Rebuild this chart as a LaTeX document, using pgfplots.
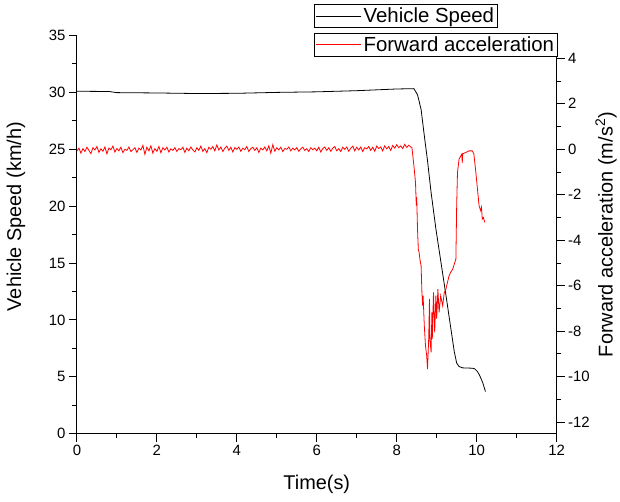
\documentclass[border=0pt]{standalone}
\usepackage{fontspec}
\setmainfont{Liberation Sans}
\usepackage{pgfplots}
\pgfplotsset{compat=1.18}
\begin{document}
\begin{tikzpicture}[x=1pt,y=1pt]
\pgfplotsset{
  common/.style={
    scale only axis, width=482pt, height=400pt,
    at={(77.3pt,68.3pt)}, anchor=south west,
    xmin=0, xmax=12,
    tick align=outside,
    major tick length=8pt, minor tick length=4.5pt,
    axis line style={line width=1pt,-},
    tick style={line width=1pt,black},
    ticklabel style={font=\fontsize{15}{17}\selectfont},
    /pgf/number format/assume math mode=true,
    label style={font=\fontsize{20}{22}\selectfont},
    legend style={font=\fontsize{20.5}{22}\selectfont, draw=black, line width=0.8pt,
      inner sep=1.5pt, row sep=1pt, legend cell align=left},
    legend image code/.code={\draw[#1,line width=0.8pt] (0pt,0pt) -- (45pt,0pt);},
  }
}
\begin{axis}[common,
  ymin=0, ymax=35,
  axis x line*=bottom, axis y line*=left,
  xtick={0,2,...,12}, minor x tick num=1,
  ytick={0,5,...,35}, minor y tick num=1,
  xlabel={Time(s)}, ylabel={Vehicle Speed (km/h)},
  xlabel style={at={(axis description cs:0.5,-0.128)}, anchor=center},
  ylabel style={at={(axis description cs:-0.127,0.545)}, anchor=center},
  legend style={at={(axis description cs:0.4946,1.079)}, anchor=north west},
]
\addplot[black, line width=0.8pt] coordinates {
(0,30.1) (0.8,30.08) (1.0,29.98) (2,29.95) (3,29.9) (4,29.92) (5,30.0) (6,30.05)
(7,30.15) (8,30.3) (8.43,30.33) (8.52,29.8) (8.61,28.5) (8.69,26.2) (8.77,24.0)
(8.86,21.2) (8.98,18.0) (9.23,12.2) (9.44,7.2) (9.50,6.2) (9.56,5.9) (9.65,5.78)
(9.89,5.75) (9.95,5.7) (10.02,5.45) (10.07,5.15) (10.15,4.5) (10.22,3.7)
};
\addlegendentry{Vehicle Speed}
\end{axis}
\begin{axis}[common,
  ymin=-12.5, ymax=5,
  axis x line=none, axis y line*=right,
  ytick={-12,-10,...,4}, minor y tick num=1,
  ylabel={Forward acceleration (m/s\textsuperscript{2})},
  ylabel style={at={(axis description cs:1.103,0.5)}, anchor=center},
  legend style={at={(axis description cs:0.4946,1.0068)}, anchor=north west},
]
\addplot[red, line width=0.8pt] coordinates {
(0.00,-0.07) (0.05,0.05) (0.10,-0.17) (0.15,0.03) (0.20,-0.10) (0.25,0.09) (0.30,-0.05)
(0.35,-0.19) (0.40,0.07) (0.45,-0.03) (0.50,0.12) (0.55,-0.14) (0.60,0.02) (0.65,-0.09)
(0.70,0.10) (0.75,-0.20) (0.80,0.05) (0.85,-0.02) (0.90,0.14) (0.95,-0.12) (1.00,0.03)
(1.05,-0.07) (1.10,0.09) (1.15,-0.15) (1.20,0.00) (1.25,-0.05) (1.30,0.10) (1.35,-0.10)
(1.40,-0.02) (1.45,0.07) (1.50,-0.14) (1.55,0.05) (1.60,-0.03) (1.65,0.17) (1.70,-0.22)
(1.75,0.09) (1.80,-0.07) (1.85,0.15) (1.90,-0.17) (1.95,0.03) (2.00,-0.09) (2.05,0.12)
(2.10,-0.15) (2.15,0.07) (2.20,-0.03) (2.25,0.09) (2.30,-0.12) (2.35,0.02) (2.40,-0.05)
(2.45,0.07) (2.50,-0.10) (2.55,0.03) (2.60,-0.02) (2.65,0.09) (2.70,-0.14) (2.75,0.05)
(2.80,-0.07) (2.85,0.10) (2.90,-0.03) (2.95,-0.12) (3.00,0.07) (3.05,-0.05) (3.10,0.14)
(3.15,-0.09) (3.20,0.03) (3.25,-0.15) (3.30,0.09) (3.35,0.00) (3.40,0.12) (3.45,-0.07)
(3.50,0.19) (3.55,-0.03) (3.60,0.10) (3.65,-0.10) (3.70,0.05) (3.75,0.14) (3.80,-0.05)
(3.85,0.09) (3.90,-0.12) (3.95,0.07) (4.00,0.00) (4.05,0.10) (4.10,-0.09) (4.15,0.05)
(4.20,-0.02) (4.25,0.12) (4.30,-0.10) (4.35,0.03) (4.40,0.09) (4.45,-0.05) (4.50,0.07)
(4.55,-0.14) (4.60,0.05) (4.65,-0.03) (4.70,0.10) (4.75,-0.07) (4.80,0.15) (4.85,-0.17)
(4.90,0.20) (4.95,-0.09) (5.00,0.07) (5.05,-0.03) (5.10,0.09) (5.15,-0.10) (5.20,0.03)
(5.25,0.00) (5.30,0.10) (5.35,-0.07) (5.40,0.05) (5.45,-0.03) (5.50,0.07) (5.55,-0.09)
(5.60,0.02) (5.65,0.09) (5.70,-0.05) (5.75,0.03) (5.80,-0.10) (5.85,0.07) (5.90,-0.02)
(5.95,0.05) (6.00,-0.07) (6.05,0.09) (6.10,-0.12) (6.15,0.03) (6.20,0.10) (6.25,-0.05)
(6.30,0.07) (6.35,-0.09) (6.40,0.05) (6.45,0.12) (6.50,-0.07) (6.55,0.03) (6.60,-0.10)
(6.65,0.09) (6.70,0.00) (6.75,0.10) (6.80,-0.09) (6.85,0.05) (6.90,0.14) (6.95,-0.07)
(7.00,0.09) (7.05,-0.03) (7.10,0.10) (7.15,-0.10) (7.20,0.07) (7.25,0.02) (7.30,0.12)
(7.35,-0.05) (7.40,0.09) (7.45,-0.09) (7.50,0.14) (7.55,0.03) (7.60,0.10) (7.65,-0.07)
(7.70,0.15) (7.75,0.02) (7.80,0.12) (7.85,-0.05) (7.90,0.17) (7.95,0.05) (8.00,0.20)
(8.05,0.07) (8.10,0.15) (8.15,0.03) (8.20,0.22) (8.25,0.08) (8.30,0.18) (8.35,0.10)
(8.38,0.08) (8.43,-0.72) (8.47,-1.46) (8.49,-2.48) (8.50,-2.1) (8.52,-3.5) (8.54,-4.39)
(8.56,-4.53) (8.58,-4.83) (8.61,-5.12) (8.63,-6.29) (8.65,-6.88) (8.66,-6.44)
(8.69,-7.76) (8.72,-8.64) (8.75,-9.08) (8.77,-9.66) (8.80,-8.34) (8.82,-6.58)
(8.83,-8.34) (8.86,-8.93) (8.88,-7.17) (8.89,-8.34) (8.92,-6.29) (8.95,-8.05)
(8.98,-6.44) (9.00,-7.46) (9.03,-6.15) (9.06,-7.17) (9.10,-6.44) (9.15,-6.88)
(9.19,-6.29) (9.23,-6.15) (9.27,-5.85) (9.31,-5.56) (9.35,-5.41) (9.40,-5.27)
(9.44,-5.05) (9.48,-4.83) (9.50,-2.48) (9.52,-1.02) (9.56,-0.43) (9.63,-0.21)
(9.64,-0.6) (9.65,-0.2) (9.73,-0.14) (9.81,-0.07) (9.89,-0.07) (9.93,-0.21)
(9.98,-1.02) (10.02,-1.75) (10.06,-2.48) (10.10,-2.7) (10.12,-2.55) (10.14,-3.07)
(10.17,-3.0) (10.20,-3.21)
};
\addlegendentry{Forward acceleration}
\end{axis}
\path (0,0) rectangle (620,504);
\end{tikzpicture}
\end{document}
